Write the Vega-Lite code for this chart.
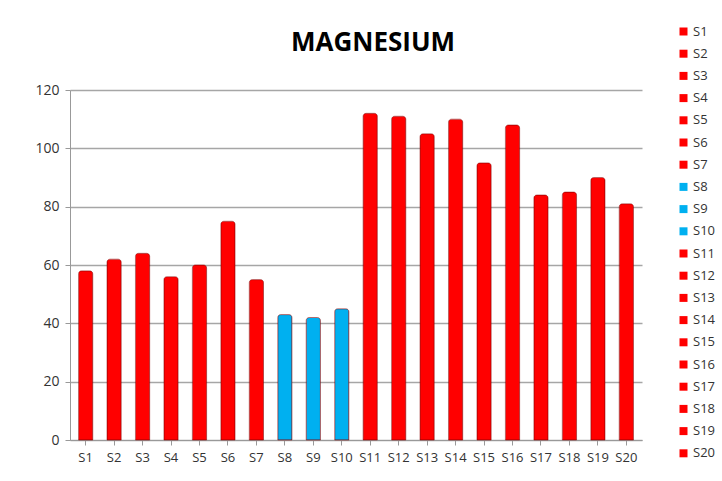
{
  "$schema": "https://vega.github.io/schema/vega-lite/v6.json",
  "autosize": {"type": "none"},
  "padding": {"left": 70, "top": 90, "right": 82, "bottom": 41},
  "width": 572,
  "height": 350,
  "background": "white",
  "title": {
    "text": "MAGNESIUM",
    "font": "Open Sans",
    "fontSize": 26,
    "fontWeight": "bold",
    "color": "#000000",
    "anchor": "middle",
    "dx": 17,
    "offset": -31
  },
  "data": {
    "values": [
      {"sample": "S1", "value": 58},
      {"sample": "S2", "value": 62},
      {"sample": "S3", "value": 64},
      {"sample": "S4", "value": 56},
      {"sample": "S5", "value": 60},
      {"sample": "S6", "value": 75},
      {"sample": "S7", "value": 55},
      {"sample": "S8", "value": 43},
      {"sample": "S9", "value": 42},
      {"sample": "S10", "value": 45},
      {"sample": "S11", "value": 112},
      {"sample": "S12", "value": 111},
      {"sample": "S13", "value": 105},
      {"sample": "S14", "value": 110},
      {"sample": "S15", "value": 95},
      {"sample": "S16", "value": 108},
      {"sample": "S17", "value": 84},
      {"sample": "S18", "value": 85},
      {"sample": "S19", "value": 90},
      {"sample": "S20", "value": 81}
    ]
  },
  "mark": {"type": "bar", "stroke": "#8B0000", "strokeWidth": 0.5, "cornerRadiusTopLeft": 3, "cornerRadiusTopRight": 3},
  "encoding": {
    "x": {
      "field": "sample",
      "type": "nominal",
      "sort": null,
      "scale": {"paddingInner": 0.5, "paddingOuter": 0.3},
      "axis": {
        "title": null,
        "labelAngle": 0,
        "labelFont": "Open Sans",
        "labelFontSize": 13,
        "labelColor": "#333333",
        "labelPadding": 6,
        "domainColor": "#999999",
        "tickColor": "#999999",
        "tickSize": 5,
        "grid": false
      }
    },
    "y": {
      "field": "value",
      "type": "quantitative",
      "scale": {"domain": [0, 120]},
      "axis": {
        "title": null,
        "values": [0, 20, 40, 60, 80, 100, 120],
        "labelFont": "Open Sans",
        "labelFontSize": 14,
        "labelColor": "#333333",
        "labelPadding": 6,
        "domainColor": "#999999",
        "tickColor": "#999999",
        "tickSize": 5,
        "grid": true,
        "gridColor": "#A6A6A6",
        "gridWidth": 1.5
      }
    },
    "color": {
      "field": "sample",
      "type": "nominal",
      "sort": null,
      "scale": {
        "domain": ["S1","S2","S3","S4","S5","S6","S7","S8","S9","S10","S11","S12","S13","S14","S15","S16","S17","S18","S19","S20"],
        "range": ["#FF0000","#FF0000","#FF0000","#FF0000","#FF0000","#FF0000","#FF0000","#00B0F0","#00B0F0","#00B0F0","#FF0000","#FF0000","#FF0000","#FF0000","#FF0000","#FF0000","#FF0000","#FF0000","#FF0000","#FF0000"]
      },
      "legend": {
        "title": null,
        "orient": "none",
        "legendX": 607,
        "legendY": -65,
        "symbolType": "square",
        "symbolSize": 64,
        "symbolStrokeWidth": 0,
        "labelFont": "Open Sans",
        "labelFontSize": 13,
        "labelColor": "#333333",
        "rowPadding": 8.2,
        "labelOffset": 3
      }
    }
  },
  "config": {"view": {"stroke": null}}
}
